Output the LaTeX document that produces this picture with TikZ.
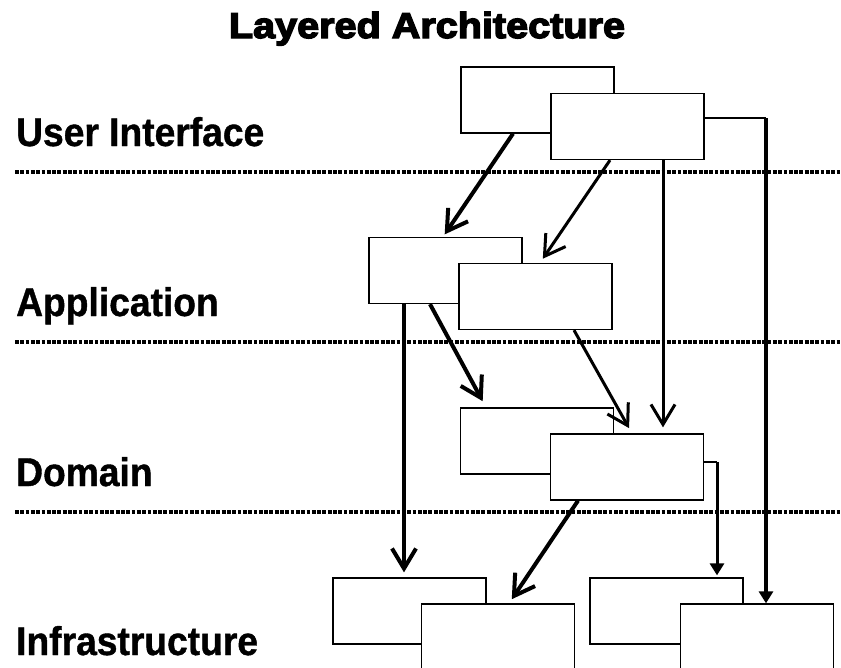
\documentclass[tikz,border=0pt]{standalone}
\usepackage{fontspec}
\setmainfont{Liberation Sans}
\newfontfamily\layerfont{Liberation Sans Bold}[FakeStretch=0.93,FakeBold=1]
\newfontfamily\headfont{Liberation Sans Bold}[FakeStretch=1.1,FakeBold=4]
\usetikzlibrary{arrows.meta}

\begin{document}
\begin{tikzpicture}[x=1pt,y=-1pt,
  box/.style={draw,line width=1.3pt,fill=white,minimum width=153pt,minimum height=66pt,inner sep=0pt},
  layer/.style={anchor=base west,inner sep=0pt,font=\layerfont\fontsize{40}{40}\selectfont},
  heading/.style={anchor=base,inner sep=0pt,font=\headfont\fontsize{36}{36}\selectfont},
  layerline/.style={line width=4.6pt,dash pattern=on 3.8pt off 1.5pt},
  thinline/.style={line width=1.3pt},
  lightdep/.style={line width=3pt},
  heavydep/.style={line width=4pt},
  flow/.style={-{Straight Barb[length=20pt,width=24pt]}},
  feed/.style={-{Triangle[length=12pt,width=14pt]}}]
\useasboundingbox (0,0) rectangle (841,667);
\clip (0,0) rectangle (841,667);
% titles
\node[heading] (title) at (427,38) {Layered Architecture};
\node[layer] (ui) at (16,146) {User Interface};
\node[layer] (app) at (16,316) {Application};
\node[layer] (dom) at (16,486) {Domain};
\node[layer] (inf) at (16,655) {Infrastructure};
\foreach \y in {172,342,512}
  \draw[layerline] (15,\y) -- (841,\y);
% boxes
\node[box] (ui1) at (537.5,100) {};
\node[box] (ui2) at (627.5,126.5) {};
\node[box] (app1) at (445.5,270.5) {};
\node[box] (app2) at (535.5,296.5) {};
\node[box] (dom1) at (537,441) {};
\node[box] (dom2) at (627,467) {};
\node[box] (inf1) at (409.5,611) {};
\node[box] (inf2) at (498,637) {};
\node[box] (inf3) at (666.5,611) {};
\node[box] (inf4) at (757,637) {};
% dependencies
\draw[heavydep,flow,shorten >=3pt] ([xshift=-24.5pt]ui1.south) -- ([xshift=-2.5pt]app1.north);
\draw[lightdep,flow,shorten >=5pt] ([xshift=-17.5pt]ui2.south) -- ([xshift=4.5pt]app2.north);
\draw[lightdep,flow,shorten >=6pt] ([xshift=35.5pt]ui2.south) -- ([xshift=35.5pt]ui2.south |- dom2.north);
\coordinate (uidrop) at (766,118);
\draw[thinline] (ui2.east |- uidrop) -- (uidrop);
\draw[line width=4.6pt,feed] (uidrop) -- (uidrop |- inf4.north);
\draw[heavydep,flow,shorten >=5pt] ([xshift=-41.5pt]app1.south) -- ([xshift=-41.5pt]app1.south |- inf1.north);
\draw[heavydep,flow,shorten >=7pt] ([xshift=-15.5pt]app1.south) -- ([xshift=-51pt]dom1.north);
\draw[lightdep,flow,shorten >=6pt] ([xshift=38.5pt]app2.south) -- ([xshift=5pt]dom2.north);
\coordinate (domdrop) at (717,462);
\draw[thinline] (dom2.east |- domdrop) -- (domdrop);
\draw[lightdep,feed,shorten >=2pt] (domdrop) -- (domdrop |- inf3.north);
\draw[heavydep,flow,shorten >=5pt] ([xshift=-49pt]dom2.south) -- ([xshift=11pt]inf2.north);
\end{tikzpicture}
\end{document}
